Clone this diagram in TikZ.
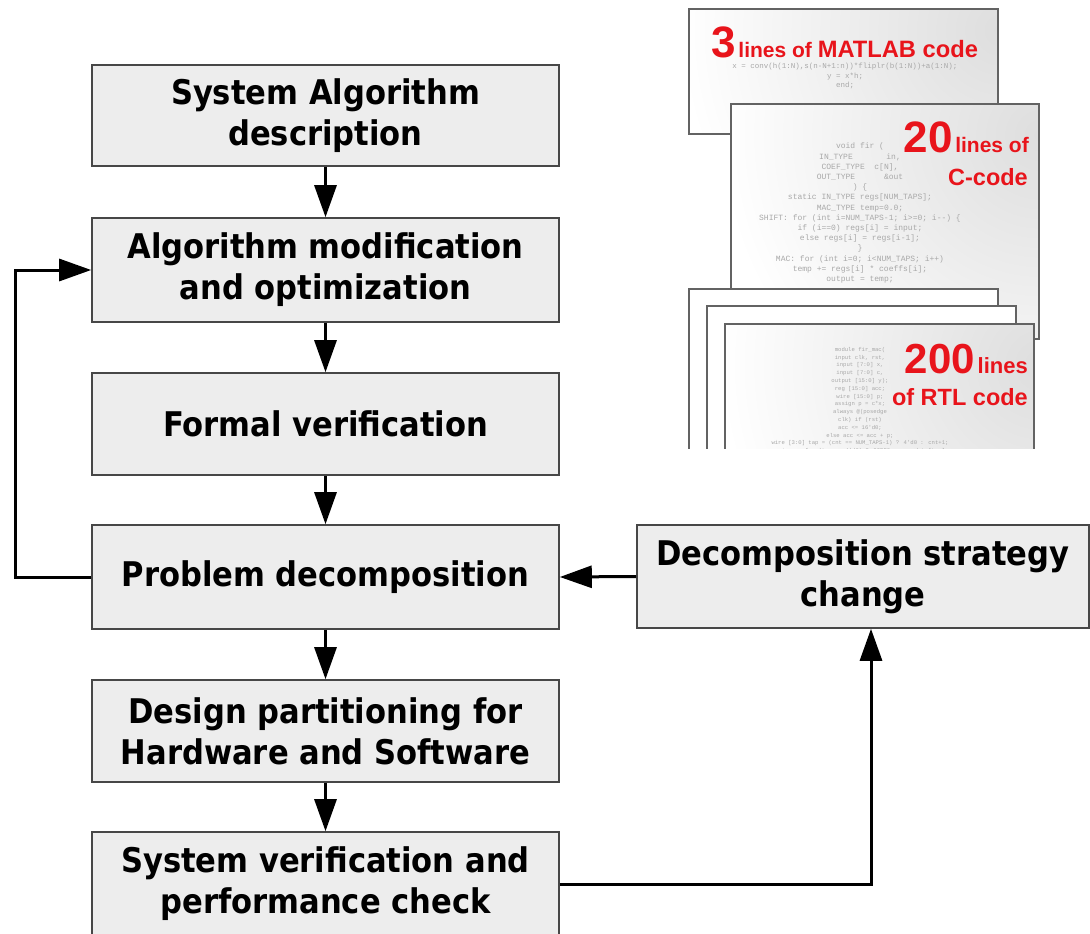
\documentclass[tikz,border=0pt]{standalone}
\usepackage{fontspec}
\setmainfont{DejaVu Sans Condensed}
\newfontfamily\labelfont{Liberation Sans}
\newfontfamily\codefont{Liberation Mono}
\usetikzlibrary{arrows.meta}

\definecolor{boxfill}{HTML}{EDEDED}
\definecolor{boxline}{HTML}{474747}
\definecolor{hot}{HTML}{E8141B}
\definecolor{codegray}{HTML}{A8A8A8}

\begin{document}
\begin{tikzpicture}[x=1pt,y=-1pt,
  stage/.style={draw=boxline, line width=1.6pt, fill=boxfill, inner sep=0pt,
    minimum width=467pt, align=center,
    font=\fontsize{34}{41}\selectfont\bfseries, text=black},
  conn/.style={line width=3pt, -{Triangle[length=32pt,width=22pt]}},
  pageline/.style={draw=boxline!85, line width=1.4pt},
  glow/.style={inner color=black!13, outer color=white},
  codetext/.style={text=codegray, align=center, inner sep=0pt},
  bignum/.style={text=hot, inner sep=0pt},
]
\useasboundingbox (0,0) rectangle (1090,934);
\clip (0,0) rectangle (1090,934);

% ---------- code pages ----------
% MATLAB page
\fill[white] (689,9) rectangle (998,134);
\begin{scope}
  \clip (689,9) rectangle (998,134);
  \shade[glow] (1000,30) circle (320);
\end{scope}
\draw[pageline] (689,9) rectangle (998,134);
\node[codetext, anchor=north, font=\codefont\fontsize{7.5}{9.5}\selectfont] (mcode) at (845,63)
  {x = conv(h(1:N),s(n-N+1:n))*fliplr(b(1:N))+a(1:N);\\ y = x*h;\\ end;};
\node[bignum, anchor=base west, font=\labelfont\bfseries] (mlabel) at (711,58)
  {{\fontsize{44}{44}\selectfont 3}\ {\fontsize{21}{21}\selectfont lines of }{\fontsize{23.7}{24}\selectfont MATLAB code}};

% C page
\fill[white] (731,104) rectangle (1039,339);
\begin{scope}
  \clip (731,104) rectangle (1039,339);
  \shade[glow] (1040,135) circle (320);
\end{scope}
\draw[pageline] (731,104) rectangle (1039,339);
\node[codetext, anchor=north, font=\codefont\fontsize{8}{10.2}\selectfont] (ccode) at (860,143)
  {void fir (\\
   IN\_TYPE \ \ \ \ \ \ in,\\
   COEF\_TYPE \ c[N],\\
   OUT\_TYPE \ \ \ \ \ \&out\\
   ) \{\\
   static IN\_TYPE regs[NUM\_TAPS];\\
   MAC\_TYPE temp=0.0;\\
   SHIFT: for (int i=NUM\_TAPS-1; i>=0; i--) \{\\
   if (i==0) regs[i] = input;\\
   else regs[i] = regs[i-1];\\
   \}\\
   MAC: for (int i=0; i<NUM\_TAPS; i++)\\
   temp += regs[i] * coeffs[i];\\
   output = temp;};
\node[bignum, anchor=base east, font=\labelfont\bfseries] (clabel1) at (1029,152)
  {{\fontsize{44}{44}\selectfont 20}\ {\fontsize{21}{21}\selectfont lines of}};
\node[bignum, anchor=base east, font=\labelfont\bfseries\fontsize{23.5}{24}\selectfont] (clabel2) at (1028,185) {C-code};

% RTL page stack (runs off below)
\begin{scope}
\clip (600,280) rectangle (1090,448);
\fill[white] (689,289) rectangle (998,460);
\draw[pageline] (689,460) -- (689,289) -- (998,289) -- (998,460);
\fill[white] (707,306) rectangle (1016,460);
\draw[pageline] (707,460) -- (707,306) -- (1016,306) -- (1016,460);
\fill[white] (725,324) rectangle (1034,460);
\begin{scope}
  \clip (725,324) rectangle (1034,460);
  \shade[glow] (1040,365) circle (320);
\end{scope}
\draw[pageline] (725,460) -- (725,324) -- (1034,324) -- (1034,460);
\node[codetext, anchor=north, font=\codefont\fontsize{5.6}{7.8}\selectfont] (rcode) at (860,347)
  {module fir\_mac(\\
   input clk, rst,\\
   input [7:0] x,\\
   input [7:0] c,\\
   output [15:0] y);\\
   reg [15:0] acc;\\
   wire [15:0] p;\\
   assign p = c*x;\\
   always @(posedge\\
   clk) if (rst)\\
   acc <= 16'd0;\\
   else acc <= acc + p;\\
   wire [3:0] tap = (cnt == NUM\_TAPS-1) ? 4'd0 : cnt+1;\\
   assign coef = (tap == 4'd0) ? COEF0 : rom\_data[tap];};
\end{scope}
\node[bignum, anchor=base east, font=\labelfont\bfseries] (rlabel1) at (1028,373)
  {{\fontsize{42}{42}\selectfont 200}\ {\fontsize{22}{22}\selectfont lines}};
\node[bignum, anchor=base east, font=\labelfont\bfseries\fontsize{23.5}{24}\selectfont] (rlabel2) at (1028,405) {of RTL code};

% ---------- design flow ----------
\node[stage, minimum height=101pt] (b1) at (325.5,115.5) {System Algorithm\\description};
\node[stage, minimum height=104pt] (b2) at (325.5,270) {Algorithm modification\\and optimization};
\node[stage, minimum height=102pt] (b3) at (325.5,424) {Formal verification};
\node[stage, minimum height=104pt] (b4) at (325.5,577) {Problem decomposition};
\node[stage, minimum height=102pt] (b5) at (325.5,731) {Design partitioning for\\Hardware and Software};
\node[stage, minimum height=104pt] (b6) at (325.5,884) {System verification and\\performance check};
\node[stage, minimum width=452pt, minimum height=103pt] (r) at (863,576.5) {Decomposition strategy\\change};

\coordinate (loopx) at (15,0);
\coordinate (upx) at (871,0);

\draw[conn] (b1.south) -- (b2.north);
\draw[conn] (b2.south) -- (b3.north);
\draw[conn] (b3.south) -- (b4.north);
\draw[conn] (b4.south) -- (b5.north);
\draw[conn] (b5.south) -- (b6.north);
\draw[conn] (b4.west) -- (b4.west -| loopx) |- (b2.west);
\draw[conn] (r.west) -- (b4.east);
\draw[conn] (b6.east) -| (upx |- r.south);
\end{tikzpicture}
\end{document}
